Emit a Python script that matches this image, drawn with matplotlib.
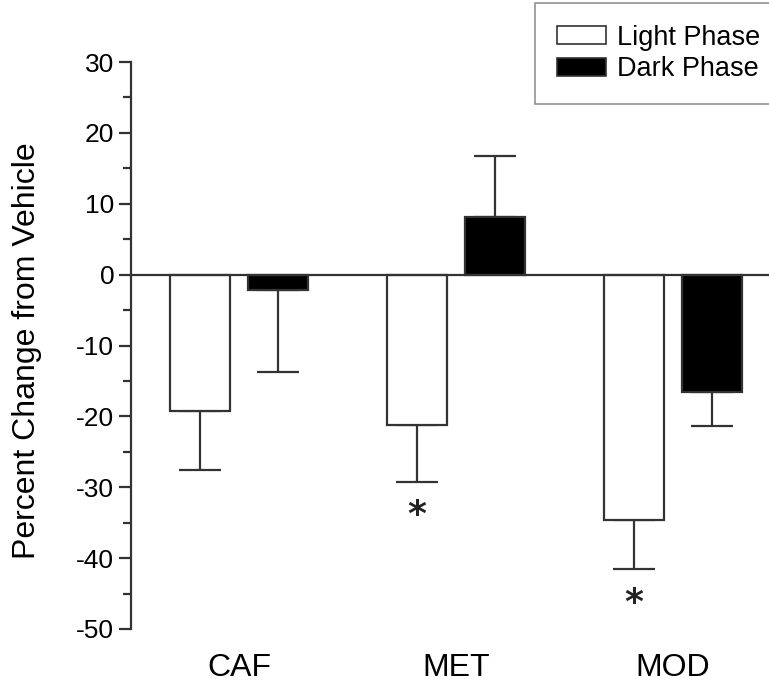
import matplotlib
matplotlib.use("Agg")
import matplotlib.pyplot as plt
import numpy as np
from matplotlib.patches import Patch

plt.rcParams['font.family'] = ['Liberation Sans', 'DejaVu Sans']
plt.rcParams['axes.unicode_minus'] = False

categories = ["CAF", "MET", "MOD"]
light_vals = [-19.3, -21.2, -34.6]
light_err = [8.3, 8.0, 7.0]
dark_vals = [-2.1, 8.2, -16.5]
dark_err = [11.6, 8.6, 4.9]
sig_light = [False, True, True]
series_labels = ["Light Phase", "Dark Phase"]

W, H = 769, 683
fig = plt.figure(figsize=(W / 100, H / 100), dpi=100)
ax = fig.add_axes([131 / W, 1 - 629 / H, (W - 131) / W, (629 - 62) / H])

lc = '#333333'
lw = 1.6
x = np.arange(len(categories))
width = 0.277
off = 0.18

def one_sided(vals, errs):
    lo = [e if v < 0 else 0 for v, e in zip(vals, errs)]
    hi = [e if v >= 0 else 0 for v, e in zip(vals, errs)]
    return [lo, hi]

ax.axhline(0, color=lc, lw=lw, zorder=3)
ax.bar(x - off, light_vals, width, color='white', edgecolor=lc, linewidth=lw, zorder=2,
       yerr=one_sided(light_vals, light_err),
       error_kw=dict(ecolor=lc, elinewidth=lw, capsize=15, capthick=lw, zorder=1))
ax.bar(x + off, dark_vals, width, color='black', edgecolor=lc, linewidth=lw, zorder=2,
       yerr=one_sided(dark_vals, dark_err),
       error_kw=dict(ecolor=lc, elinewidth=lw, capsize=15, capthick=lw, zorder=1))

for i, s in enumerate(sig_light):
    if s:
        yv = light_vals[i] - light_err[i] - 4.7
        ax.text(x[i] - off, yv, "*", ha='center', va='center', fontsize=26,
                fontweight='bold', family='DejaVu Sans', color='#222222')

ax.set_xlim(-0.498, 2.442)
ax.set_ylim(-50, 30)
ax.set_yticks(np.arange(-50, 31, 10))
ax.set_yticks(np.arange(-45, 30, 10), minor=True)
ax.tick_params(axis='y', which='major', length=9, width=lw, color=lc, labelsize=19, pad=3)
ax.tick_params(axis='y', which='minor', length=6, width=lw, color=lc)
ax.set_xticks(x)
ax.set_xticklabels(categories)
ax.tick_params(axis='x', length=0, labelsize=23, pad=17)
for sp in ['top', 'right', 'bottom']:
    ax.spines[sp].set_visible(False)
ax.spines['left'].set_color(lc)
ax.spines['left'].set_linewidth(lw)
ax.set_ylabel("Percent Change from Vehicle", fontsize=23)
ax.yaxis.set_label_coords(-0.14, 0.49)

handles = [Patch(facecolor='white', edgecolor=lc, linewidth=1.2),
           Patch(facecolor='black', edgecolor=lc, linewidth=1.2)]
leg = fig.legend(handles, series_labels, loc='upper left',
                 bbox_to_anchor=(535 / W, 1 - 3 / H), fontsize=19.5,
                 frameon=True, fancybox=False, edgecolor='#777777',
                 handlelength=1.82, handleheight=0.65, handletextpad=0.42,
                 borderpad=0.8, labelspacing=0.2, borderaxespad=0)
leg.get_frame().set_linewidth(1.2)

fig.savefig("out.png", dpi=100)
